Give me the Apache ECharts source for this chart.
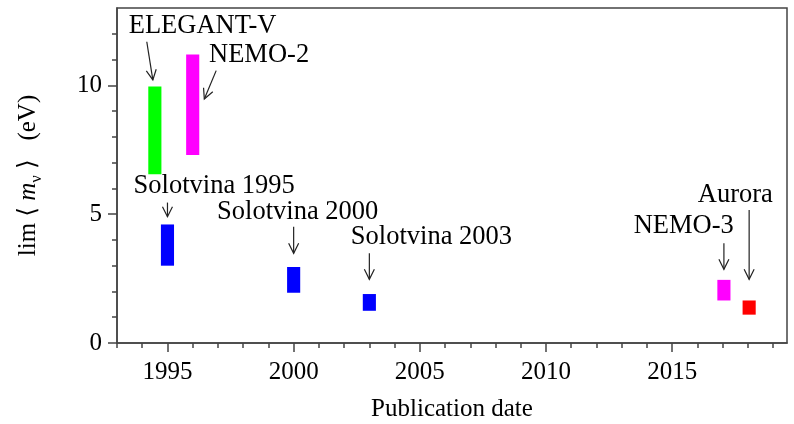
<!DOCTYPE html>
<html>
<head>
<meta charset="utf-8">
<script src="https://cdn.jsdelivr.net/npm/echarts@6/dist/echarts.min.js"></script>
<style>html,body{margin:0;padding:0;background:#fff}#c{width:794px;height:424px}</style>
</head>
<body>
<div id="c"></div>
<script>
// ---- data ----
const experiments = ['ELEGANT-V', 'NEMO-2', 'Solotvina 1995', 'Solotvina 2000', 'Solotvina 2003', 'NEMO-3', 'Aurora'];
const pubYear   = [1994.5, 1996.0, 1995.0, 2000.0, 2003.0, 2017.05, 2018.05];
const limLow    = [6.55, 7.3, 3.0, 1.95, 1.25, 1.65, 1.1];
const limHigh   = [9.95, 11.2, 4.6, 2.95, 1.9, 2.45, 1.65];
const barColors = ['#00ff00', '#ff00ff', '#0000ff', '#0000ff', '#0000ff', '#ff00ff', '#ff0000'];

// annotation anchors (data coordinates)
const labelX    = [1996.39, 1998.63, 1996.85, 2000.16, 2005.46, 2015.46, 2017.5];
const labelY    = [12.30, 11.18, 6.11, 5.08, 4.11, 4.54, 5.74];
const arrowX0   = [1994.18, 1996.93, 1995.0, 2000.0, 2003.0, 2017.05, 2018.05];
const arrowY0   = [11.69, 10.57, 5.45, 4.51, 3.48, 3.87, 5.16];
const arrowX1   = [1994.42, 1996.46, 1995.0, 2000.0, 2003.0, 2017.05, 2018.05];
const arrowY1   = [10.21, 9.47, 4.90, 3.48, 2.47, 2.86, 2.47];

const xMinorTicks = [1993,1994,1995,1996,1997,1998,1999,2000,2001,2002,2003,2004,2005,2006,2007,2008,2009,2010,2011,2012,2013,2014,2015,2016,2017,2018,2019];
const xMajorTicks = [1995, 2000, 2005, 2010, 2015];
const yMinorTicks = [0,1,2,3,4,5,6,7,8,9,10,11,12];
const yMajorTicks = [0, 5, 10];

// ---- chart ----
const FONT = '"Liberation Serif", "DejaVu Serif", serif';
const AXC = '#444';
const chart = echarts.init(document.getElementById('c'), null, {renderer: 'canvas'});

const barData = pubYear.map((x, i) => [x, limLow[i], limHigh[i], i]);
const annData = experiments.map((n, i) => [labelX[i], labelY[i], arrowX0[i], arrowY0[i], arrowX1[i], arrowY1[i], i]);

const axisBaseX = {type: 'value', min: 1993, max: 2019.55, splitLine: {show: false}};
const axisBaseY = {type: 'value', min: 0, max: 13, splitLine: {show: false}};

chart.setOption({
  animation: false,
  backgroundColor: '#fff',
  grid: {left: 117, right: 7, top: 8, bottom: 81, show: true, borderColor: AXC, borderWidth: 1.5,
         containLabel: false, outerBoundsMode: 'none'},
  xAxis: [
    Object.assign({}, axisBaseX, {
      position: 'bottom',
      axisLine: {show: true, lineStyle: {color: AXC, width: 1.5}},
      axisTick: {show: true, length: 5, customValues: xMinorTicks, lineStyle: {color: AXC, width: 1.5}},
      axisLabel: {customValues: xMajorTicks, formatter: v => String(v), color: '#000', fontSize: 25, fontFamily: FONT, margin: 17},
      name: 'Publication date', nameLocation: 'middle', nameGap: 54,
      nameTextStyle: {color: '#000', fontSize: 25, fontFamily: FONT}
    }),
    Object.assign({}, axisBaseX, {
      position: 'bottom',
      axisLine: {show: false},
      axisTick: {show: true, length: 9, customValues: xMajorTicks, lineStyle: {color: AXC, width: 1.5}},
      axisLabel: {show: false}
    })
  ],
  yAxis: [
    Object.assign({}, axisBaseY, {
      position: 'left',
      axisLine: {show: true, lineStyle: {color: AXC, width: 1.5}},
      axisTick: {show: true, length: 5, customValues: yMinorTicks, lineStyle: {color: AXC, width: 1.5}},
      axisLabel: {customValues: yMajorTicks, formatter: v => String(v), color: '#000', fontSize: 25, fontFamily: FONT, margin: 15},
      name: 'lim ⟨ {m|m}{s|ν} ⟩   (eV)', nameLocation: 'middle', nameRotate: 90, nameGap: 72,
      nameTextStyle: {
        color: '#000', fontSize: 25, fontFamily: FONT, lineHeight: 34,
        rich: {
          m: {fontStyle: 'italic', fontSize: 25, fontFamily: FONT, color: '#000', lineHeight: 34},
          s: {fontSize: 16, fontFamily: FONT, color: '#000', verticalAlign: 'bottom', lineHeight: 34}
        }
      }
    }),
    Object.assign({}, axisBaseY, {
      position: 'left',
      axisLine: {show: false},
      axisTick: {show: true, length: 9, customValues: yMajorTicks, lineStyle: {color: AXC, width: 1.5}},
      axisLabel: {show: false}
    })
  ],
  series: [
    {
      type: 'custom',
      xAxisIndex: 0, yAxisIndex: 0,
      data: barData,
      clip: true,
      renderItem: function (params, api) {
        const x = api.value(0), lo = api.value(1), hi = api.value(2), idx = api.value(3);
        const pLo = api.coord([x, lo]);
        const pHi = api.coord([x, hi]);
        const w = api.size([0.52, 0])[0];
        return {
          type: 'rect',
          shape: {x: pLo[0] - w / 2, y: pHi[1], width: w, height: pLo[1] - pHi[1]},
          style: {fill: barColors[idx]}
        };
      }
    },
    {
      type: 'custom',
      xAxisIndex: 0, yAxisIndex: 0,
      data: annData,
      renderItem: function (params, api) {
        const idx = api.value(6);
        const pl = api.coord([api.value(0), api.value(1)]);
        const a0 = api.coord([api.value(2), api.value(3)]);
        const a1 = api.coord([api.value(4), api.value(5)]);
        const dx = a1[0] - a0[0], dy = a1[1] - a0[1];
        const len = Math.sqrt(dx * dx + dy * dy);
        const ux = dx / len, uy = dy / len;
        const hl = 10, hw = 5;
        const bx = a1[0] - ux * hl, by = a1[1] - uy * hl;
        const px = -uy, py = ux;
        return {
          type: 'group',
          children: [
            {type: 'line', shape: {x1: a0[0], y1: a0[1], x2: a1[0], y2: a1[1]}, style: {stroke: '#222', lineWidth: 1.2}},
            {type: 'polyline', shape: {points: [[bx + px * hw, by + py * hw], [a1[0], a1[1]], [bx - px * hw, by - py * hw]]},
              style: {stroke: '#222', lineWidth: 1.2, fill: null}},
            {type: 'text', x: pl[0], y: pl[1],
              style: {text: experiments[idx], fill: '#000', fontSize: 26.5, fontFamily: FONT, align: 'center', verticalAlign: 'middle'}}
          ]
        };
      }
    }
  ]
});
</script>
</body>
</html>
